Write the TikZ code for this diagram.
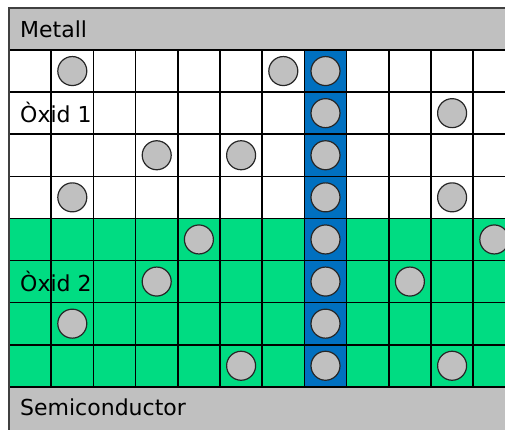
\documentclass[tikz,border=0pt]{standalone}
\usepackage{fontspec}
\setmainfont{DejaVu Sans}
\usepackage{xcolor}
\definecolor{bandgray}{RGB}{192,192,192}
\definecolor{oxgreen}{RGB}{0,220,130}
\definecolor{chanblue}{RGB}{0,112,192}

\begin{document}
\begin{tikzpicture}[x=1pt,y=-1pt]
\tikzstyle{every node}=[font=\fontsize{22}{26}\selectfont, inner sep=0pt]
\tikzstyle{gridline}=[line width=1.6pt, black]
\tikzstyle{border}=[line width=2pt, black!75]
\tikzstyle{trap}=[circle, draw=black!85, fill=bandgray, line width=1.2pt, minimum size=29pt]
\useasboundingbox (0,0) rectangle (505,429);
\clip (0,0) rectangle (505,429);
% layers
\fill[bandgray] (9,8) rectangle (520,50);
\fill[oxgreen] (9,218.4) rectangle (520,386.8);
\fill[chanblue] (304.4,50) rectangle (346.6,386.8);
\fill[bandgray] (9,386.8) rectangle (520,440);
% grid
\foreach \c in {0,...,12}
  \draw[gridline] ({9+42.2*\c},50) -- ({9+42.2*\c},386.8);
\foreach \r in {0,...,8}
  \draw[gridline] (9,{50+42.1*\r}) -- (520,{50+42.1*\r});
\draw[border] (9,440) -- (9,8) -- (520,8);
% traps
\foreach \c/\r [count=\n] in {1/0,6/0,10/1,3/2,5/2,1/3,10/3,4/4,11/4,3/5,9/5,1/6,5/7,10/7,
  7/0,7/1,7/2,7/3,7/4,7/5,7/6,7/7}
  \node[trap] (t\n) at ({9+42.2*(\c+.5)},{50+42.1*(\r+.5)}) {};
% labels
\node[anchor=base west] (metall) at (20,37) {Metall};
\node[anchor=base west] (ox1) at (20,122) {Òxid 1};
\node[anchor=base west] (ox2) at (20,291) {Òxid 2};
\node[anchor=base west] (semi) at (20,415) {Semiconductor};
\end{tikzpicture}
\end{document}
